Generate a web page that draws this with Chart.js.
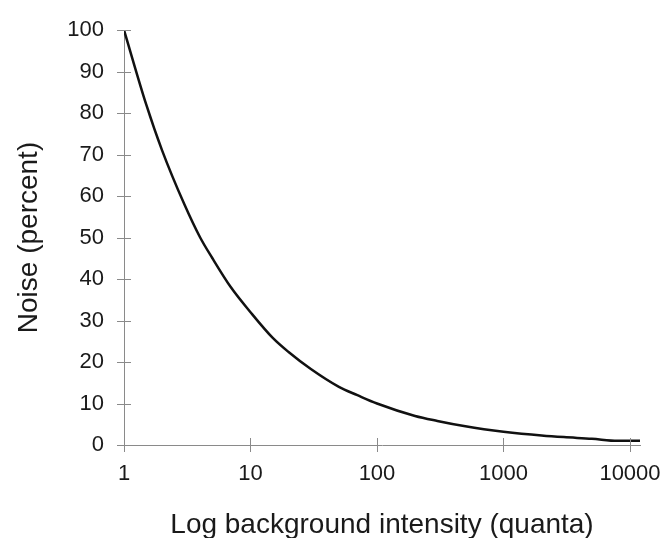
<!DOCTYPE html>
<html>
<head>
<meta charset="utf-8">
<script src="https://cdn.jsdelivr.net/npm/chart.js@4/dist/chart.umd.min.js"></script>
<style>
  html, body { margin: 0; padding: 0; background: #fff; }
  canvas { display: block; }
</style>
</head>
<body>
<canvas id="chart" width="666" height="538"></canvas>
<script>
// Intensidad de fondo (cuantos) y ruido
const intensity = [1, 1.5, 2, 3, 4, 5, 7, 10, 15, 20, 30, 50, 70, 100, 200, 300, 500, 700, 1000, 2000, 3000, 5000, 8000, 12000];
const noise = [100, 82, 71, 58, 50, 45, 38, 32, 25.8, 22.4, 18.3, 14, 12, 10, 7, 5.8, 4.5, 3.8, 3.2, 2.3, 1.9, 1.5, 1.0, 1.0];

const xTicks = [1, 10, 100, 1000, 10000];
const yTicks = [0, 10, 20, 30, 40, 50, 60, 70, 80, 90, 100];

const axisColor = '#8a8a8a';
const textColor = '#1a1a1a';
const fontFamily = 'Arial, "Liberation Sans", sans-serif';

// Marcas que cruzan el eje por ambos lados
const crossTicks = {
    id: 'crossTicks',
    afterDraw(chart) {
        const ctx = chart.ctx;
        const x = chart.scales.x;
        const y = chart.scales.y;
        const area = chart.chartArea;
        const len = 7;
        ctx.save();
        ctx.strokeStyle = axisColor;
        ctx.lineWidth = 1;
        ctx.beginPath();
        xTicks.forEach(v => {
            const px = Math.round(x.getPixelForValue(v)) + 0.5;
            ctx.moveTo(px, area.bottom - len);
            ctx.lineTo(px, area.bottom + len);
        });
        yTicks.forEach(v => {
            const py = Math.round(y.getPixelForValue(v)) + 0.5;
            ctx.moveTo(area.left - len, py);
            ctx.lineTo(area.left + len, py);
        });
        ctx.stroke();
        ctx.restore();
    }
};

const ctx = document.getElementById('chart').getContext('2d');

new Chart(ctx, {
    type: 'scatter',
    data: {
        datasets: [{
            data: intensity.map((v, i) => ({ x: v, y: noise[i] })),
            showLine: true,
            borderColor: '#111',
            borderWidth: 2.5,
            pointRadius: 0,
            cubicInterpolationMode: 'monotone',
            fill: false
        }]
    },
    options: {
        responsive: false,
        animation: false,
        layout: { padding: { left: 0, right: 26, top: 30, bottom: 0 } },
        plugins: {
            legend: { display: false },
            tooltip: { enabled: false }
        },
        scales: {
            x: {
                type: 'logarithmic',
                min: 1,
                max: 12000,
                afterBuildTicks: scale => { scale.ticks = xTicks.map(v => ({ value: v })); },
                afterFit: scale => {
                    scale.height = 93;
                    scale.paddingLeft = 0;
                    scale.paddingRight = 0;
                },
                border: { display: true, color: axisColor, width: 1 },
                grid: { display: false, drawTicks: false },
                ticks: {
                    padding: 16,
                    color: textColor,
                    font: { family: fontFamily, size: 22 },
                    maxRotation: 0,
                    callback: v => String(v)
                },
                title: {
                    display: true,
                    text: 'Log background intensity (quanta)',
                    color: textColor,
                    font: { family: fontFamily, size: 28 },
                    padding: { top: 0, bottom: -4 }
                }
            },
            y: {
                min: 0,
                max: 100,
                afterBuildTicks: scale => { scale.ticks = yTicks.map(v => ({ value: v })); },
                afterFit: scale => {
                    scale.width = 124;
                    scale.paddingTop = 0;
                    scale.paddingBottom = 0;
                },
                border: { display: true, color: axisColor, width: 1 },
                grid: { display: false, drawTicks: false },
                ticks: {
                    padding: 20,
                    color: textColor,
                    font: { family: fontFamily, size: 22 }
                },
                title: {
                    display: true,
                    text: 'Noise (percent)',
                    color: textColor,
                    font: { family: fontFamily, size: 28 },
                    padding: { top: 12, bottom: 0 }
                }
            }
        }
    },
    plugins: [crossTicks]
});
</script>
</body>
</html>
